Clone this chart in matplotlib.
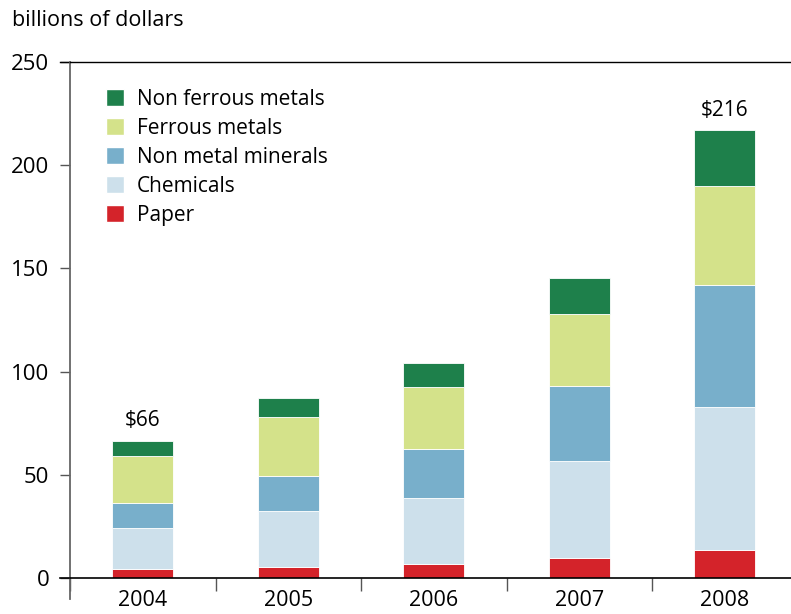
import matplotlib.pyplot as plt
import numpy as np
from matplotlib.patches import Patch

plt.rcParams['font.family'] = ['Open Sans', 'DejaVu Sans']

years = ["2004", "2005", "2006", "2007", "2008"]
paper = [4.5, 5.5, 7.0, 9.5, 13.5]
chemicals = [19.5, 27.0, 32.0, 47.0, 69.5]
non_metal = [12.5, 17.0, 23.5, 36.5, 59.0]
ferrous = [22.5, 28.5, 30.0, 35.0, 48.0]
non_ferrous = [7.5, 9.0, 11.5, 17.5, 27.0]
totals = {0: "$66", 4: "$216"}

series = [
    ("Paper", paper, "#d4232a"),
    ("Chemicals", chemicals, "#cde0eb"),
    ("Non metal minerals", non_metal, "#78afcb"),
    ("Ferrous metals", ferrous, "#d4e28a"),
    ("Non ferrous metals", non_ferrous, "#1e804b"),
]

fig = plt.figure(figsize=(7.91, 6.14), dpi=100)
ax = fig.add_axes([70 / 791, 36 / 614, 721 / 791, 516 / 614])

x = np.arange(len(years))
bottom = np.zeros(len(years))
for name, vals, col in series:
    ax.bar(x, vals, 0.42, bottom=bottom, color=col, edgecolor="white", linewidth=0.6)
    bottom += np.array(vals)

for i, txt in totals.items():
    ax.text(x[i], bottom[i] + 4.5, txt, ha="center", va="bottom", fontsize=15)

ax.set_xlim(-0.5, 4.455)
ax.set_ylim(0, 250)
ax.set_yticks([0, 50, 100, 150, 200, 250])
ax.tick_params(axis="y", length=7, width=1, color="#555555", pad=8, labelsize=16)

ax.set_xticks(np.arange(-0.5, 4, 1))
ax.set_xticklabels([])
ax.set_xticks(x, minor=True)
ax.set_xticklabels(years, minor=True)
ax.tick_params(axis="x", which="major", length=9, width=1, color="#555555")
ax.tick_params(axis="x", which="minor", length=0, pad=9, labelsize=15.5)

ax.spines["right"].set_visible(False)
ax.spines["left"].set_color("#666666")
ax.spines["left"].set_linewidth(1.3)
ax.spines["left"].set_bounds(-10, 250)
ax.spines["bottom"].set_linewidth(1.2)
ax.spines["top"].set_linewidth(1.0)
ax.spines["left"].set_position(("data", -0.5))

# top and bottom lines stick out to the left like ticks
ax.plot([-0.57, -0.5], [250, 250], color="black", lw=1.0, clip_on=False)
ax.plot([-0.57, -0.5], [0, 0], color="black", lw=1.2, clip_on=False)

handles = [Patch(facecolor=c, edgecolor="white", label=n) for n, v, c in series[::-1]]
ax.legend(handles=handles, loc="upper left", bbox_to_anchor=(0.038, 0.964), frameon=False,
          fontsize=15, handlelength=0.9, handleheight=0.9, handletextpad=0.6,
          labelspacing=0.38, borderaxespad=0)

fig.text(12 / 791, 1 - 20 / 614, "billions of dollars", ha="left", va="center", fontsize=15.5)

fig.savefig("out.png", dpi=100)
